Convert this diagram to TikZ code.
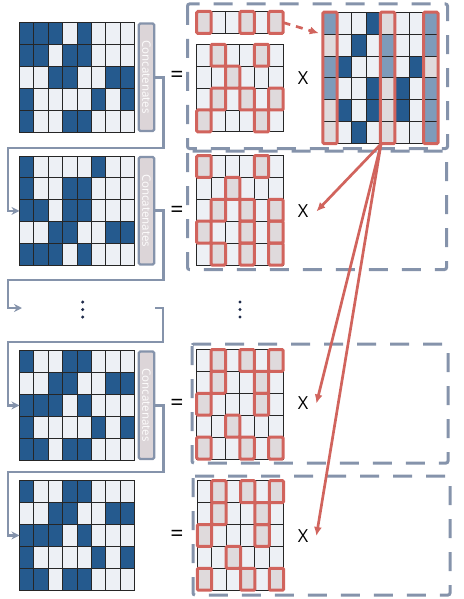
\documentclass[tikz,border=0pt]{standalone}
\usepackage{graphicx}
\usepackage{fontspec}
\setmainfont{Open Sans}
\usetikzlibrary{arrows.meta}

\definecolor{navy}{HTML}{255A8E}
\definecolor{pale}{HTML}{EDF0F5}
\definecolor{hlpale}{HTML}{DFDADC}
\definecolor{hlnavy}{HTML}{7E9BBA}
\definecolor{brick}{HTML}{D1645D}
\definecolor{slate}{HTML}{8593AB}
\definecolor{barfill}{HTML}{DCD5D8}
\definecolor{ink}{HTML}{1E2A4A}
\colorlet{cellc0}{pale}
\colorlet{cellc1}{navy}
\colorlet{cellc2}{hlpale}
\colorlet{cellc3}{hlnavy}

\def\cw{14.4}
\def\ch{21.9}

\newcommand{\cellgrid}[3]{%
  \foreach \row [count=\ri] in {#3} {
    \foreach \v [count=\ci] in \row {
      \filldraw[gridcell, fill=cellc\v] ({#1+(\ci-1)*\cw},{#2+(\ri-1)*\ch}) rectangle ++(\cw,\ch);
    }
  }
}
\newcommand{\redcells}[3]{%
  \foreach \row [count=\ri] in {#3} {
    \foreach \v [count=\ci] in \row {
      \ifnum\v=2
        \draw[hlbox] ({#1+(\ci-1)*\cw},{#2+(\ri-1)*\ch}) rectangle ++(\cw,\ch);
      \fi
    }
  }
}

\begin{document}
\begin{tikzpicture}[x=1pt,y=-1pt,
  gridcell/.style={draw=black!85, line width=0.9pt},
  hlbox/.style={draw=brick, line width=3pt, rounded corners=1.2pt},
  frame/.style={inner sep=0pt, anchor=north west},
  catbar/.style={draw=slate, fill=barfill, line width=2.4pt, rounded corners=1.5pt, minimum width=15.5pt, minimum height=107.5pt, inner sep=0pt, text=white!96!barfill, font=\fontsize{11.5}{11.5}\selectfont},
  dashbox/.style={draw=slate, line width=3pt, dash pattern=on 19pt off 14pt, rounded corners=2pt},
  link/.style={draw=slate, line width=2.8pt, -{Stealth[length=8pt,width=8pt]}},
  hit/.style={draw=brick, line width=2.7pt, -{Latex[length=9pt,width=8pt]}},
  op/.style={inner sep=0pt, font=\fontsize{18}{18}\selectfont},
  equals/.style={inner sep=0pt, font=\fontsize{23}{23}\selectfont},
  times/.style={op, inner xsep=8pt}]

\useasboundingbox (0,0) rectangle (463,599);

\draw[dashbox] (187.5,4) rectangle (447.5,148.5);
\draw[dashbox] (187.5,151) rectangle (446.5,269.5);
\draw[dashbox] (192,344) rectangle (448,463);
\draw[dashbox] (193,476) rectangle (450,595);

\cellgrid{19.5}{22.5}{{1,1,1,0,1,0,0,0},{1,1,0,1,1,0,0,0},{0,0,1,1,0,0,1,1},{1,0,0,0,0,1,0,1},{1,0,0,1,1,0,0,0}}
\cellgrid{19.5}{156}{{1,0,0,0,0,1,0,0},{1,0,0,1,1,0,0,0},{1,1,0,1,1,0,0,0},{0,0,1,1,0,0,1,1},{1,1,1,0,1,0,0,0}}
\cellgrid{19.5}{350.5}{{1,0,0,1,1,0,0,0},{0,0,1,1,0,0,1,1},{1,1,1,0,1,0,0,0},{1,0,0,0,0,1,0,1},{1,1,0,1,1,0,0,0}}
\cellgrid{19.5}{480.5}{{1,0,0,1,1,0,0,0},{0,0,1,1,0,0,1,1},{1,1,1,0,1,0,0,0},{1,0,0,0,0,1,0,1},{1,1,0,1,1,0,0,0}}
\node[frame, minimum width=115.2pt, minimum height=109.5pt] (L2) at (19.5,156) {};
\node[frame, minimum width=115.2pt, minimum height=109.5pt] (L3) at (19.5,350.5) {};
\node[frame, minimum width=115.2pt, minimum height=109.5pt] (L4) at (19.5,480.5) {};

\node[catbar] (C1) at (146.5,77.25) {\rotatebox{-90}{Concatenates}};
\node[catbar] (C2) at (146.5,210.75) {\rotatebox{-90}{Concatenates}};
\node[catbar] (C3) at (146.5,405.25) {\rotatebox{-90}{Concatenates}};

\cellgrid{196.7}{11.5}{{2,0,0,2,0,2}}
\cellgrid{196.7}{44.3}{{0,2,0,0,2,0},{0,0,2,0,0,0},{0,2,0,2,0,2},{2,0,0,0,2,0}}
\cellgrid{196.7}{155.5}{{2,0,0,0,2,0},{0,0,2,0,0,0},{0,2,0,2,0,2},{2,0,0,2,0,2},{0,2,0,2,0,2}}
\cellgrid{196.7}{349.5}{{0,2,0,2,0,2},{0,2,0,0,2,0},{2,0,0,0,2,0},{0,0,2,0,0,0},{2,0,0,2,0,2}}
\cellgrid{197.3}{480.7}{{0,2,0,2,0,2},{0,2,0,0,2,0},{2,0,0,0,2,0},{0,0,2,0,0,0},{2,0,0,2,0,2}}
\redcells{196.7}{11.5}{{2,0,0,2,0,2}}
\redcells{196.7}{44.3}{{0,2,0,0,2,0},{0,0,2,0,0,0},{0,2,0,2,0,2},{2,0,0,0,2,0}}
\redcells{196.7}{155.5}{{2,0,0,0,2,0},{0,0,2,0,0,0},{0,2,0,2,0,2},{2,0,0,2,0,2},{0,2,0,2,0,2}}
\redcells{196.7}{349.5}{{0,2,0,2,0,2},{0,2,0,0,2,0},{2,0,0,0,2,0},{0,0,2,0,0,0},{2,0,0,2,0,2}}
\redcells{197.3}{480.7}{{0,2,0,2,0,2},{0,2,0,0,2,0},{2,0,0,0,2,0},{0,0,2,0,0,0},{2,0,0,2,0,2}}
\node[frame, minimum width=86.4pt, minimum height=21.9pt] (R0) at (196.7,11.5) {};

\cellgrid{322.8}{12.2}{{3,0,0,1,2,0,0,3},{2,0,1,0,3,0,0,3},{3,1,0,0,3,0,1,2},{3,0,0,1,2,1,0,3},{2,1,0,1,2,1,0,3},{2,0,1,0,2,0,0,3}}
\foreach \k in {1,5,8}
  \draw[hlbox] ({322.8+(\k-1)*\cw},12.2) rectangle ++(\cw,131.4);
\node[frame, minimum width=115.2pt, minimum height=131.4pt] (W) at (322.8,12.2) {};

\node[equals] (eq1) at (177,77) {=};
\node[equals] (eq2) at (177,211.5) {=};
\node[equals] (eq3) at (177,405) {=};
\node[equals] (eq4) at (177,536) {=};
\node[times] (x1) at (303,78) {X};
\node[times] (x2) at (303,211.5) {X};
\node[times] (x3) at (303,403.5) {X};
\node[times] (x4) at (303,536) {X};

\foreach \dx in {82.7,240}
  \foreach \dy in {302,309.5,317}
    \fill[ink] (\dx,\dy) circle (1.7);

\coordinate (turnA) at (8,148);
\coordinate (turnB) at (8,280);
\coordinate (gapL) at (22,308);
\coordinate (gapR) at (155,308);
\coordinate (turnC) at (8,342);
\coordinate (turnD) at (8,472);
\draw[link] (C1.east) -- ++(8,0) |- (turnA) |- (L2.west);
\draw[link] (C2.east) -- ++(8,0) |- (turnB) |- (gapL);
\draw[link] (gapR) -- ++(8,0) |- (turnC) |- (L3.west);
\draw[link] (C3.east) -- ++(8,0) |- (turnD) |- (L4.west);

\coordinate (fanout) at (381,144);
\draw[hit, dash pattern=on 7pt off 6pt] (R0.east) -- ([shift={(-4,21)}]W.north west);
\draw[hit] (fanout) -- (x2.east);
\draw[hit] (fanout) -- (x3.east);
\draw[hit] (fanout) -- (x4.east);
\end{tikzpicture}
\end{document}
